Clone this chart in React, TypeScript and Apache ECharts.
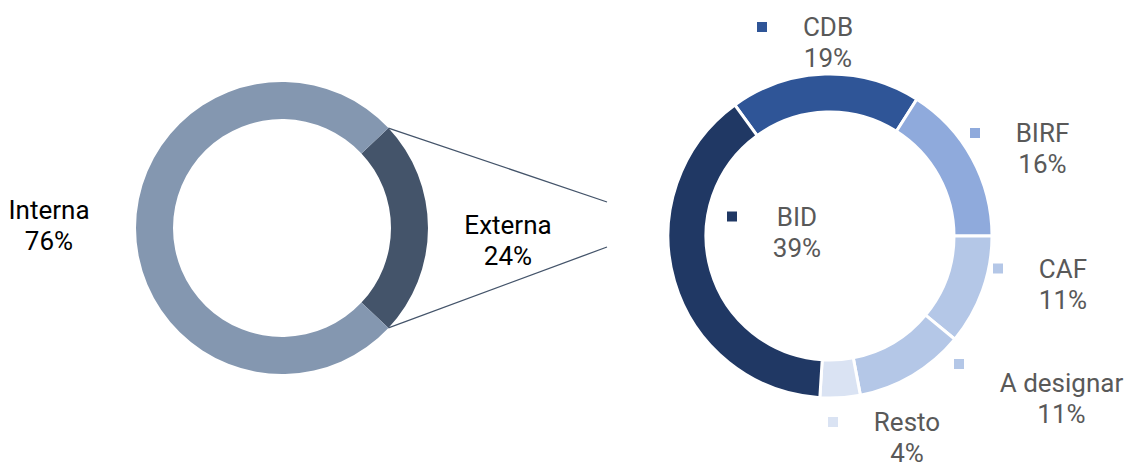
import React, { useEffect, useRef } from 'react';
import * as echarts from 'echarts';

// ---- data ----
const originCategories = ['Externa', 'Interna'];
const originValues = [24, 76];
const sourceCategories = ['CDB', 'BIRF', 'CAF', 'A designar', 'Resto', 'BID'];
const sourceValues = [19, 16, 11, 11, 4, 39];

// ---- styles ----
const originColors = ['#44546A', '#8497B0'];
const sourceColors = ['#2F5597', '#8FAADC', '#B4C7E7', '#B4C7E7', '#DAE3F3', '#203864'];
const FONT = 'Roboto';
const FS = 26;
const LH = 31;

// ---- layout ----
const W = 1129;
const H = 463;
const LEFT_C = [282, 228];
const LEFT_R = [109, 146];
const RIGHT_C = [830, 236];
const RIGHT_R = [124, 162];
const originLabelPos = [[508, 240], [49, 225.5]];
const sourceLabelPos = [[757, 11.5], [970, 117.5], [993, 253], [954, 361], [828, 406.5], [727, 201]];
const markerAbove = [false, false, false, true, false, false];
const connectorEnd = [[607, 202], [607, 247]];

export default function App() {
  const ref = useRef<HTMLDivElement>(null);
  useEffect(() => {
    document.body.style.margin = '0';
    if (!ref.current) return;
    const chart = echarts.init(ref.current, undefined, { renderer: 'svg' });

    const ctx = document.createElement('canvas').getContext('2d')!;
    ctx.font = `${FS}px ${FONT}`;
    const measure = (t: string) => ctx.measureText(t).width;

    const rich: any = { gap: { width: 35, lineHeight: LH }, sp: { width: 45, lineHeight: LH } };
    sourceCategories.forEach((name, i) => {
      rich['mk' + i] = {
        width: 10,
        height: 10,
        backgroundColor: sourceColors[i],
        lineHeight: markerAbove[i] ? 6 : LH,
      };
      const w = Math.ceil(Math.max(measure(name), measure(sourceValues[i] + '%'))) + 1;
      rich['t' + i] = {
        width: w,
        align: 'center',
        fontSize: FS,
        fontFamily: FONT,
        color: '#595959',
        lineHeight: LH,
      };
    });

    const originTotal = originValues.reduce((a, b) => a + b, 0);
    const sourceTotal = sourceValues.reduce((a, b) => a + b, 0);
    const leftStart = (originValues[0] / originTotal) * 180;
    const rightStart = ((sourceValues[0] + sourceValues[1]) / sourceTotal) * 360;

    const a = (leftStart * Math.PI) / 180;
    const p1 = [LEFT_C[0] + LEFT_R[1] * Math.cos(a), LEFT_C[1] - LEFT_R[1] * Math.sin(a)];
    const p2 = [LEFT_C[0] + LEFT_R[1] * Math.cos(a), LEFT_C[1] + LEFT_R[1] * Math.sin(a)];

    chart.setOption({
      animation: false,
      backgroundColor: '#ffffff',
      series: [
        {
          type: 'pie',
          silent: true,
          center: LEFT_C,
          radius: LEFT_R,
          startAngle: leftStart,
          clockwise: true,
          avoidLabelOverlap: false,
          emphasis: { disabled: true },
          labelLine: { show: false },
          label: {
            show: true,
            position: 'outside',
            formatter: '{b}\n{c}%',
            fontSize: FS,
            fontFamily: FONT,
            color: '#000000',
            lineHeight: LH,
            align: 'center',
          },
          labelLayout: (p: any) => ({
            x: originLabelPos[p.dataIndex][0],
            y: originLabelPos[p.dataIndex][1],
            align: 'center',
            verticalAlign: 'middle',
          }),
          data: originCategories.map((n, i) => ({
            name: n,
            value: originValues[i],
            itemStyle: { color: originColors[i] },
          })),
        },
        {
          type: 'pie',
          silent: true,
          center: RIGHT_C,
          radius: RIGHT_R,
          startAngle: rightStart,
          clockwise: true,
          avoidLabelOverlap: false,
          emphasis: { disabled: true },
          itemStyle: { borderColor: '#ffffff', borderWidth: 3 },
          labelLine: { show: false },
          label: {
            show: true,
            position: 'outside',
            fontSize: FS,
            fontFamily: FONT,
            color: '#595959',
            lineHeight: LH,
            align: 'left',
            rich,
            formatter: (p: any) => {
              const i = p.dataIndex;
              const nm = `{t${i}|${p.name}}`;
              const vl = `{t${i}|${p.value}%}`;
              return markerAbove[i]
                ? `{mk${i}|}\n{sp|}${nm}\n{sp|}${vl}`
                : `{mk${i}|}{gap|}${nm}\n{sp|}${vl}`;
            },
          },
          labelLayout: (p: any) => ({
            x: sourceLabelPos[p.dataIndex][0],
            y: sourceLabelPos[p.dataIndex][1],
            align: 'left',
            verticalAlign: 'top',
          }),
          data: sourceCategories.map((n, i) => ({
            name: n,
            value: sourceValues[i],
            itemStyle: { color: sourceColors[i] },
          })),
        },
      ],
      graphic: [
        {
          type: 'line',
          z: 100,
          silent: true,
          shape: { x1: p1[0], y1: p1[1], x2: connectorEnd[0][0], y2: connectorEnd[0][1] },
          style: { stroke: '#44546A', lineWidth: 1.3 },
        },
        {
          type: 'line',
          z: 100,
          silent: true,
          shape: { x1: p2[0], y1: p2[1], x2: connectorEnd[1][0], y2: connectorEnd[1][1] },
          style: { stroke: '#44546A', lineWidth: 1.3 },
        },
      ],
    });
    return () => chart.dispose();
  }, []);
  return <div ref={ref} style={{ width: W, height: H }} />;
}
